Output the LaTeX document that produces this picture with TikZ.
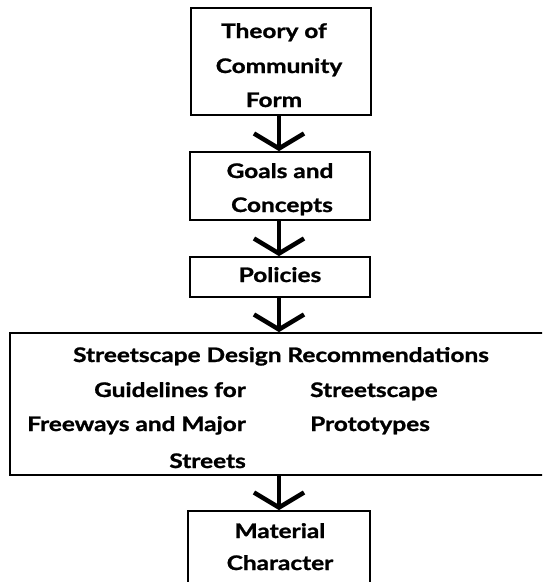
\documentclass[tikz,border=0pt]{standalone}
\usepackage{fontspec}
\setmainfont{Lato}[FakeStretch=1.22, BoldFeatures={FakeBold=1.2}]
\usetikzlibrary{arrows.meta}
\begin{document}
\begin{tikzpicture}[x=1pt,y=-1pt,
  box/.style={draw, line width=1.8pt, inner sep=0pt},
  txt/.style={inner sep=0pt, font=\fontsize{20}{22}\selectfont\bfseries},
  arr/.style={line width=4.5pt, -{Straight Barb[length=15pt,width=50pt,line width=4.5pt]}}]
\clip (0,0) rectangle (542,582);
\node[box, minimum width=180pt, minimum height=107pt] (b1) at (281,61.5) {};
\node[box, minimum width=180pt, minimum height=68pt] (b2) at (280,186) {};
\node[box, minimum width=180pt, minimum height=40pt] (b3) at (280,277) {};
\node[box, minimum width=540pt, minimum height=142pt] (b4) at (280,404) {};
\node[box, minimum width=182pt, minimum height=90pt] (b5) at (279,556) {};
% texts
\node[txt, anchor=base] (t1a) at (274,38) {Theory of};
\node[txt, anchor=base] (t1b) at (279,73) {Community};
\node[txt, anchor=base] (t1c) at (274,107) {Form};
\node[txt, anchor=base] (t2a) at (280,178) {Goals and};
\node[txt, anchor=base] (t2b) at (282,212) {Concepts};
\node[txt, anchor=base] (t3) at (280,282) {Policies};
\node[txt, anchor=base] (t4) at (281,362) {Streetscape Design Recommendations};
\node[txt, anchor=base east] (t4a) at (246,397) {Guidelines for};
\node[txt, anchor=base east] (t4b) at (246,431) {Freeways and Major};
\node[txt, anchor=base east] (t4c) at (246,468) {Streets};
\node[txt, anchor=base west] (t4d) at (310,397) {Streetscape};
\node[txt, anchor=base west] (t4e) at (310,431) {Prototypes};
\node[txt, anchor=base] (t5a) at (280,538) {Material};
\node[txt, anchor=base] (t5b) at (280,570) {Character};
% arrows
\draw[arr] (b1.south -| 279,0) -- (b2.north -| 279,0);
\draw[arr] (b2.south -| 279,0) -- (b3.north -| 279,0);
\draw[arr] (b3.south -| 279,0) -- (b4.north -| 279,0);
\draw[arr] (b4.south -| 279,0) -- (b5.north -| 279,0);
\end{tikzpicture}
\end{document}
